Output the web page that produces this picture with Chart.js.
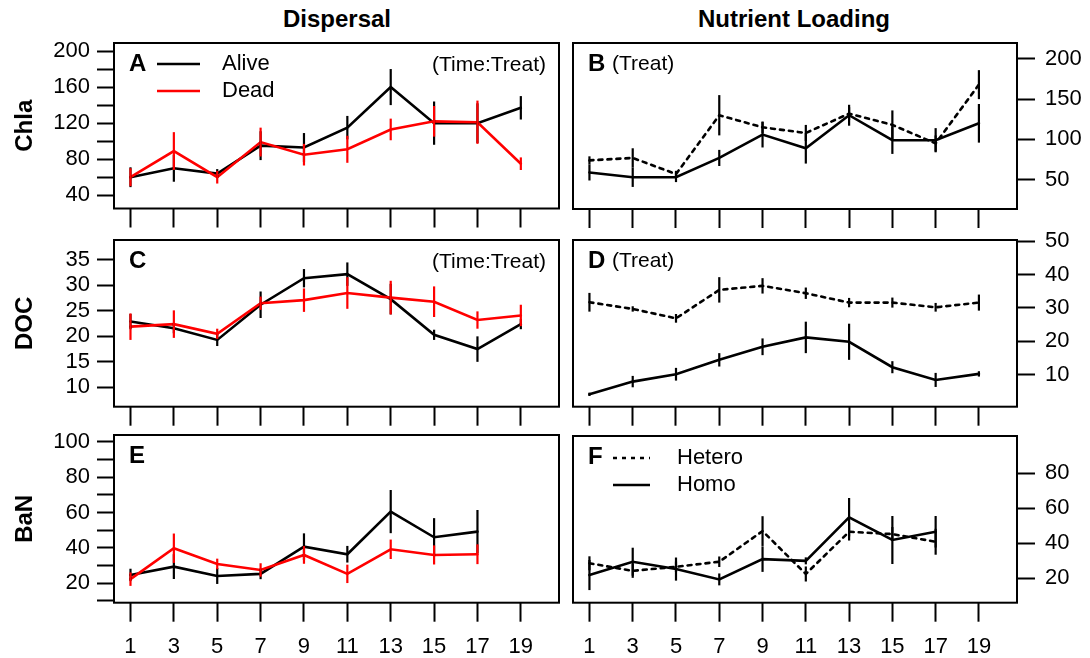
<!DOCTYPE html>
<html>
<head>
<meta charset="utf-8">
<script src="https://cdn.jsdelivr.net/npm/chart.js@4.4.1/dist/chart.umd.min.js"></script>
<style>
  body { margin: 0; background: #fff; width: 1090px; height: 658px; position: relative; overflow: hidden;
         font-family: 'Liberation Sans', Arial, sans-serif; }
  canvas { position: absolute; }
  .head { position: absolute; top: 7px; font-weight: bold; font-size: 24px; line-height: 24px;
          transform: translateX(-50%); white-space: nowrap; color: #000; }
</style>
</head>
<body>
<div class="head" style="left:337px">Dispersal</div>
<div class="head" style="left:794px">Nutrient Loading</div>

<canvas id="chA" width="565" height="232" style="left:0;top:0"></canvas>
<canvas id="chB" width="525" height="232" style="left:565px;top:0"></canvas>
<canvas id="chC" width="565" height="206" style="left:0;top:222px"></canvas>
<canvas id="chD" width="525" height="206" style="left:565px;top:222px"></canvas>
<canvas id="chE" width="565" height="238" style="left:0;top:420px"></canvas>
<canvas id="chF" width="525" height="238" style="left:565px;top:420px"></canvas>

<script>
const weeks = [1, 3, 5, 7, 9, 11, 13, 15, 17, 19]
const weeksBaN = [1, 3, 5, 7, 9, 11, 13, 15, 17]
const weekTicks = [1, 3, 5, 7, 9, 11, 13, 15, 17, 19]

// Chla
const chlaAlive   = [60, 70, 64, 95, 93, 115, 160, 120, 120, 137]
const chlaAliveSe = [11, 15, 5, 16, 16, 13, 20, 24, 22, 13]
const chlaDead    = [60, 89, 60, 99, 85, 91, 113, 122, 121, 75]
const chlaDeadSe  = [10, 21, 7, 16, 12, 15, 12, 17, 24, 7]
const chlaHetero   = [74, 77, 57, 130, 115, 108, 132, 118, 95, 168]
const chlaHeteroSe = [5, 12, 4, 25, 7, 10, 8, 18, 10, 18]
const chlaHomo     = [59, 53, 53, 77, 106, 89, 130, 99, 99, 120]
const chlaHomoSe   = [10, 12, 6, 10, 16, 19, 13, 17, 15, 24]

// DOC
const docAlive   = [22.9, 21.6, 19.3, 26.2, 31.4, 32.2, 27.3, 20.3, 17.5, 22.4]
const docAliveSe = [1.5, 1, 1.2, 2.6, 1.8, 2.3, 3, 1, 2.5, 1]
const docDead    = [21.9, 22.4, 20.5, 26.5, 27.1, 28.5, 27.6, 26.8, 23.2, 24.1]
const docDeadSe  = [2.6, 2.7, 1, 1.3, 2.3, 3.1, 3.3, 3, 1.7, 2.1]
const docHetero   = [31.7, 29.7, 26.9, 35.4, 36.6, 34.4, 31.6, 31.6, 30.2, 31.6]
const docHeteroSe = [2.8, 0.8, 1.3, 3.8, 2.3, 1.7, 1.4, 1.5, 1.3, 2.4]
const docHomo     = [4.2, 8, 10.2, 14.5, 18.4, 21.2, 19.9, 12.3, 8.5, 10.3]
const docHomoSe   = [0.5, 1.7, 1.9, 2, 2.5, 4.7, 5.4, 1.8, 2.1, 0.8]

// BaN
const banAlive   = [24.7, 29.4, 24.1, 25.3, 40.7, 36.4, 60.5, 46, 49.2]
const banAliveSe = [3.5, 7, 4.5, 3, 7.5, 4.7, 12.2, 10.8, 12.2]
const banDead    = [22.3, 39.8, 30.9, 27.5, 36, 25.3, 39.2, 36, 36.4]
const banDeadSe  = [3.8, 8.3, 3, 3.8, 5, 5.2, 5.5, 5.4, 5.6]
const banHetero   = [28.6, 24.3, 26.6, 29.5, 47, 22.5, 46.6, 45.3, 40.9]
const banHeteroSe = [4, 4, 3, 3, 8.5, 4.3, 5, 4, 7.4]
const banHomo     = [21.9, 29.5, 25.3, 19.4, 31, 30, 54.9, 41.9, 46.6]
const banHomoSe   = [8.6, 8, 6.6, 3.4, 7.3, 2, 11, 13.7, 9]

// y axis ticks and which of them carry a label
const chlaTicksL  = [40, 60, 80, 100, 120, 140, 160, 180, 200]
const chlaLabelsL = [40, 80, 120, 160, 200]
const chlaTicksR  = [50, 100, 150, 200]
const docTicksL   = [10, 15, 20, 25, 30, 35]
const docTicksR   = [10, 20, 30, 40, 50]
const banTicksL   = [10, 20, 30, 40, 50, 60, 70, 80, 90, 100]
const banLabelsL  = [20, 40, 60, 80, 100]
const banTicksR   = [20, 40, 60, 80]

const family = "'Liberation Sans', Arial, sans-serif"
const tickFont = { family: family, size: 22 }
const DASH = [4, 5]

// frame, error bars, panel letter, notes and legend
const panelBox = {
  id: 'panelBox',
  afterDatasetsDraw(chart, args, opts) {
    const { ctx, chartArea: a, scales: { x, y } } = chart
    ctx.save()
    ctx.lineWidth = 2.2
    chart.data.datasets.forEach(ds => {
      ctx.strokeStyle = ds.borderColor
      ds.data.forEach((p, i) => {
        const px = x.getPixelForValue(p.x)
        ctx.beginPath()
        ctx.moveTo(px, y.getPixelForValue(p.y - ds.err[i]))
        ctx.lineTo(px, y.getPixelForValue(p.y + ds.err[i]))
        ctx.stroke()
      })
    })
    ctx.lineWidth = 2
    ctx.strokeStyle = '#000'
    ctx.strokeRect(a.left, a.top, a.width, a.height)

    ctx.fillStyle = '#000'
    ctx.textBaseline = 'middle'
    ctx.textAlign = 'left'
    ctx.font = 'bold 24px ' + family
    ctx.fillText(opts.letter, a.left + 15, a.top + 21)
    if (opts.note) {
      ctx.font = '21px ' + family
      if (opts.noteRight) {
        ctx.textAlign = 'right'
        ctx.fillText(opts.note, a.right - 13, a.top + 22)
      } else {
        ctx.fillText(opts.note, a.left + 39, a.top + 21)
      }
    }
    if (opts.legend) {
      const lg = opts.legend
      ctx.font = '22px ' + family
      ctx.textAlign = 'left'
      ctx.lineWidth = 2.6
      lg.items.forEach((it, i) => {
        const ly = a.top + lg.top + i * 27
        ctx.strokeStyle = it.color
        ctx.setLineDash(it.dash || [])
        ctx.beginPath()
        ctx.moveTo(a.left + lg.x0, ly)
        ctx.lineTo(a.left + lg.x1, ly)
        ctx.stroke()
        ctx.setLineDash([])
        ctx.fillText(it.label, a.left + lg.tx, ly)
      })
    }
    ctx.restore()
  }
}

// keep tick labels from pushing the plot frame around
function noPadding(s) {
  s.paddingLeft = 0
  s.paddingRight = 0
  s.paddingTop = 0
  s.paddingBottom = 0
}

function panel(id, cfg) {
  const left = cfg.side === 'left'
  return new Chart(document.getElementById(id), {
    type: 'line',
    data: {
      datasets: cfg.series.map(s => ({
        data: cfg.x.map((v, i) => ({ x: v, y: s.values[i] })),
        err: s.err,
        borderColor: s.color,
        backgroundColor: s.color,
        borderWidth: 2.6,
        borderDash: s.dash || [],
        borderCapStyle: 'round',
        pointRadius: 0,
        tension: 0,
        order: s.order
      }))
    },
    options: {
      responsive: false,
      animation: false,
      events: [],
      layout: { padding: left ? { top: cfg.top, left: 0, right: 6, bottom: 0 } : { top: cfg.top, left: 8, right: 0, bottom: 0 } },
      plugins: { legend: { display: false }, tooltip: { enabled: false }, panelBox: cfg.notes },
      scales: {
        x: {
          type: 'linear', position: 'bottom', min: 0.24, max: 20.76,
          afterBuildTicks: s => { s.ticks = weekTicks.map(v => ({ value: v })) },
          afterFit: s => { s.height = cfg.xh; noPadding(s) },
          ticks: { autoSkip: false, maxRotation: 0, padding: 12, color: '#000', font: tickFont,
                   callback: v => cfg.xLabels ? String(v) : '' },
          grid: { drawOnChartArea: false, tickLength: 19, tickWidth: 2, tickColor: '#000' },
          border: { display: false }
        },
        y: {
          type: 'linear', position: left ? 'left' : 'right', min: cfg.ymin, max: cfg.ymax,
          afterBuildTicks: s => { s.ticks = cfg.yTicks.map(v => ({ value: v })) },
          afterFit: s => { s.width = left ? 114 : 73; noPadding(s) },
          ticks: { autoSkip: false, padding: left ? 7 : 10, color: '#000', font: tickFont,
                   callback: v => cfg.yLabels.includes(v) ? String(v) : '' },
          grid: { drawOnChartArea: false, tickLength: left ? 17 : 18, tickWidth: 2, tickColor: '#000' },
          border: { display: false },
          title: left
            ? { display: true, text: cfg.yTitle, color: '#000', font: { family: family, size: 24, weight: 'bold' }, padding: { top: 11, bottom: 0 } }
            : { display: false }
        }
      }
    },
    plugins: [panelBox]
  })
}

const aliveDeadLegend = {
  x0: 43, x1: 86, tx: 108, top: 21,
  items: [{ label: 'Alive', color: '#000' }, { label: 'Dead', color: '#ff0000' }]
}
const heteroHomoLegend = {
  x0: 40, x1: 77, tx: 104, top: 22,
  items: [{ label: 'Hetero', color: '#000', dash: DASH }, { label: 'Homo', color: '#000' }]
}

panel('chA', {
  side: 'left', top: 43, xh: 23.5, x: weeks, ymin: 25.3, ymax: 208.9,
  yTicks: chlaTicksL, yLabels: chlaLabelsL, yTitle: 'Chla',
  series: [
    { values: chlaAlive, err: chlaAliveSe, color: '#000', order: 1 },
    { values: chlaDead, err: chlaDeadSe, color: '#ff0000', order: 0 }
  ],
  notes: { letter: 'A', note: '(Time:Treat)', noteRight: true, legend: aliveDeadLegend }
})

panel('chB', {
  side: 'right', top: 43, xh: 23, x: weeks, ymin: 13.6, ymax: 219.7,
  yTicks: chlaTicksR, yLabels: chlaTicksR,
  series: [
    { values: chlaHetero, err: chlaHeteroSe, color: '#000', dash: DASH, order: 1 },
    { values: chlaHomo, err: chlaHomoSe, color: '#000', order: 0 }
  ],
  notes: { letter: 'B', note: '(Treat)' }
})

panel('chC', {
  side: 'left', top: 18, xh: 21.3, x: weeks, ymin: 6.2, ymax: 38.9,
  yTicks: docTicksL, yLabels: docTicksL, yTitle: 'DOC',
  series: [
    { values: docAlive, err: docAliveSe, color: '#000', order: 1 },
    { values: docDead, err: docDeadSe, color: '#ff0000', order: 0 }
  ],
  notes: { letter: 'C', note: '(Time:Treat)', noteRight: true }
})

panel('chD', {
  side: 'right', top: 18, xh: 21.3, x: weeks, ymin: 0.5, ymax: 50.3,
  yTicks: docTicksR, yLabels: docTicksR,
  series: [
    { values: docHetero, err: docHeteroSe, color: '#000', dash: DASH, order: 1 },
    { values: docHomo, err: docHomoSe, color: '#000', order: 0 }
  ],
  notes: { letter: 'D', note: '(Treat)' }
})

panel('chE', {
  side: 'left', top: 15, xh: 55.3, x: weeksBaN, ymin: 9.0, ymax: 103.8, xLabels: true,
  yTicks: banTicksL, yLabels: banLabelsL, yTitle: 'BaN',
  series: [
    { values: banAlive, err: banAliveSe, color: '#000', order: 1 },
    { values: banDead, err: banDeadSe, color: '#ff0000', order: 0 }
  ],
  notes: { letter: 'E' }
})

panel('chF', {
  side: 'right', top: 16, xh: 55.3, x: weeksBaN, ymin: 6.1, ymax: 101.3, xLabels: true,
  yTicks: banTicksR, yLabels: banTicksR,
  series: [
    { values: banHetero, err: banHeteroSe, color: '#000', dash: DASH, order: 1 },
    { values: banHomo, err: banHomoSe, color: '#000', order: 0 }
  ],
  notes: { letter: 'F', legend: heteroHomoLegend }
})
</script>
</body>
</html>
